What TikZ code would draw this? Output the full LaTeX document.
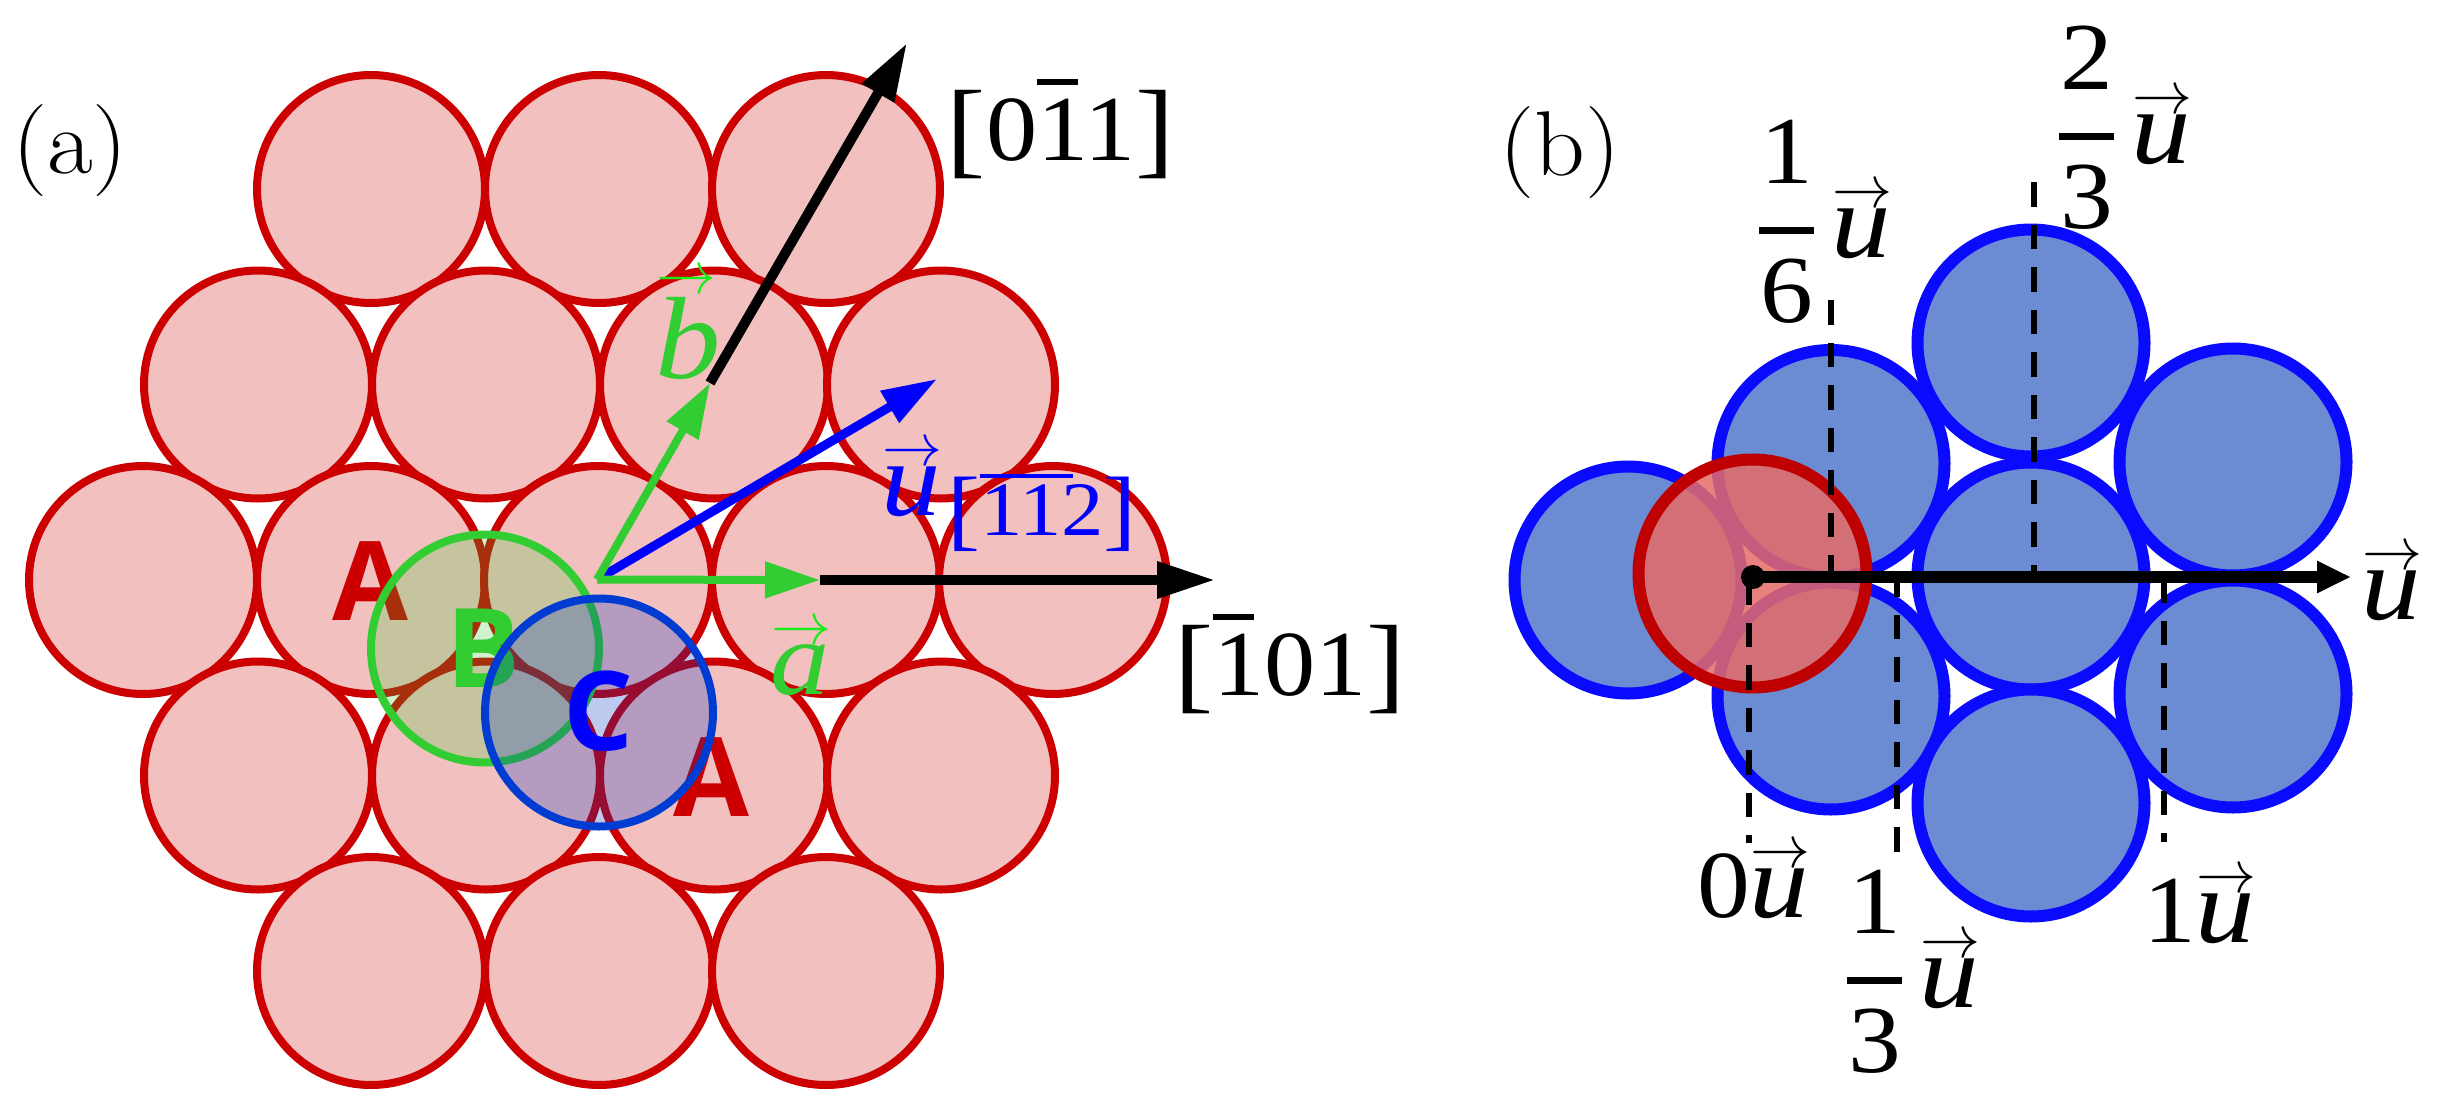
\documentclass[tikz,border=0pt]{standalone}
\usepackage{fix-cm}
\usepackage{fontspec}
\usepackage{graphicx}
\usetikzlibrary{arrows.meta}
\newfontfamily\lib{Liberation Serif}
\newfontfamily\sansb{Open Sans}
\newcommand\fs[1]{\fontsize{#1}{#1}\selectfont}
\newcommand\ov[1]{\rlap{\raisebox{.81em}{\rule{.4em}{.065em}}}#1}
\newcommand\wide[1]{\scalebox{1.1}[1]{#1}}
\newcommand\brk[1]{\raisebox{-4pt}{\fs{107}#1}}
\newcommand\brs[1]{\raisebox{-4pt}{\fs{90}#1}}
% vector letter: colour of the arrow, letter size, arrow lift, letter
\newcommand\vsym[4]{\rlap{\hspace{1pt}\raisebox{#3}{\textcolor{#1}{\fs{60}$\rightarrow$}}}\scalebox{1.12}[1]{\lib\itshape\fs{#2}#4}}
\newcommand\vu{\vsym{black}{106}{50pt}{u}}
\newcommand\fracu[2]{\lib\fs{96}\rlap{\rule[-3.5pt]{55pt}{7pt}}\rlap{\makebox[55pt][c]{\raisebox{47pt}{\wide{#1}}}}\rlap{\makebox[55pt][c]{\raisebox{-92pt}{\wide{#2}}}}\hspace{72pt}\raisebox{-27pt}{\vu}}
\definecolor{redline}{RGB}{204,0,0}
\definecolor{pinkfill}{RGB}{243,192,192}
\definecolor{greenline}{RGB}{50,205,50}
\definecolor{brightgreen}{RGB}{25,235,25}
\definecolor{bluedisc}{RGB}{0,60,210}
\definecolor{bluefilltr}{RGB}{0,50,190}
\definecolor{arrowblue}{RGB}{0,0,255}
\definecolor{atomblue}{RGB}{10,10,255}
\definecolor{atomfill}{RGB}{107,140,210}
\definecolor{dredline}{RGB}{190,0,0}
\definecolor{dredfill}{RGB}{230,107,104}
\tikzset{
  x=1pt,y=-1pt,
  atomA/.style={circle,inner sep=0,outer sep=0,minimum size=228pt,draw=redline,fill=pinkfill,line width=8pt},
  discB/.style={circle,inner sep=0,outer sep=0,minimum size=228pt,draw=greenline,fill=greenline,fill opacity=.23,line width=8pt},
  discC/.style={circle,inner sep=0,outer sep=0,minimum size=228pt,draw=bluedisc,fill=bluefilltr,fill opacity=.26,line width=8pt},
  atomU/.style={circle,inner sep=0,outer sep=0,minimum size=227pt,draw=atomblue,fill=atomfill,line width=12pt},
  atomR/.style={circle,inner sep=0,outer sep=0,minimum size=228pt,draw=dredline,fill=dredfill,fill opacity=.85,line width=12pt},
  lab/.style={inner sep=0,outer sep=0,anchor=base},
  labw/.style={inner sep=0,outer sep=0,anchor=base west},
  letter/.style={inner sep=0,outer sep=0,anchor=base,font=\sansb\bfseries\fs{110}},
  blackarrow/.style={line width=10pt,-{Triangle[length=58pt,width=35pt]}},
  greenarrow/.style={draw=greenline,line width=8pt,-{Triangle[length=55pt,width=35pt]}},
  bluearrow/.style={draw=arrowblue,line width=9pt,-{Triangle[length=55pt,width=35pt]}},
  axisarrow/.style={line width=12pt,-{Triangle[length=34pt,width=30pt]}},
  guide/.style={line width=6.5pt,dash pattern=on 24.5pt off 18pt},
}
\begin{document}
\begin{tikzpicture}
\useasboundingbox (0,0) rectangle (2448,1117);
\fill[white] (0,0) rectangle (2448,1117);
% panel a atoms
\foreach \n/\px/\py in {a1/371/189,a2/599/189,a3/826/189,
  b1/258/384.5,b2/486/384.5,b3/714/384.5,b4/941/384.5,
  c1/143/580,c2/371/580,c3/598/580,c4/826/580,c5/1053/580,
  d1/258/775.5,d2/486/775.5,d3/714/775.5,d4/941/775.5,
  e1/371/971,e2/599/971,e3/826/971}
  \node[atomA] (\n) at (\px,\py) {};
\node[letter,text=redline] (letA1) at (370,620) {A};
\node[letter,text=redline] (letA2) at (711,816) {A};
\node[discB] (discB1) at (485,648.5) {};
\node[letter,text=greenline] (letB) at (483.5,687) {B};
\node[discC] (discC1) at (599,712.5) {};
\node[letter,text=arrowblue] (letC) at (599,750) {C};
% panel a arrows
\coordinate (O) at (597,579.5);
\coordinate (atip) at (820,580);
\coordinate (btip) at (710,383);
\coordinate (utip) at (937,379);
\coordinate (hkl1) at (1215,580);
\coordinate (hkl2) at (907,43);
\draw[blackarrow] (atip) -- (hkl1);
\draw[blackarrow] (btip) -- (hkl2);
\draw[bluearrow] (O) -- (utip);
\draw[greenarrow] (O) -- (atip);
\draw[greenarrow] (O) -- (btip);
% panel a labels
\node[lab] (la) at (70,173) {\scalebox{1.08}[1]{\fs{92}(a)}};
\node[lab] (lb) at (1560,175) {\scalebox{1.08}[1]{\fs{92}(b)}};
\node[lab] (d011) at (1061,160) {\lib\fs{93}\wide{\brk{[}0\ov{1}1\brk{]}}};
\node[lab] (d101) at (1290,695) {\lib\fs{93}\wide{\brk{[}\ov{1}01\brk{]}}};
\node[lab,text=arrowblue] (d112) at (1042,535) {\lib\fs{77}\wide{\brs{[}\rlap{\raisebox{.74em}{\rule{1.1em}{.05em}}}112\brs{]}}};
\node[labw,text=arrowblue] (uvec) at (881,515) {\vsym{arrowblue}{106}{50pt}{u}};
\node[labw,text=greenline] (avec) at (770,694) {\vsym{brightgreen}{106}{50pt}{a}};
\node[labw,text=greenline] (bvec) at (655,378) {\vsym{brightgreen}{117}{85pt}{b}};
% panel b atoms
\foreach \n/\px/\py in {u1/1628/580,u2/1831/463.5,u3/1831/696,u4/2031/343,u5/2031/576,u6/2031/803,u7/2233/462,u8/2233/694}
  \node[atomU] (\n) at (\px,\py) {};
\node[atomR] (ured) at (1752.5,573.5) {};
% panel b guides
\coordinate (g0a) at (1749,580);  \coordinate (g0b) at (1749,843);
\coordinate (g6a) at (1831,300);  \coordinate (g6b) at (1831,572);
\coordinate (g2a) at (2034,182);  \coordinate (g2b) at (2034,572);
\coordinate (g3a) at (1897,582);  \coordinate (g3b) at (1897,859);
\coordinate (g1a) at (2164,578);  \coordinate (g1b) at (2164,842);
\draw[guide] (g0a) -- (g0b);
\draw[guide] (g6a) -- (g6b);
\draw[guide] (g2a) -- (g2b);
\draw[guide,dash phase=10pt] (g3a) -- (g3b);
\draw[guide] (g1a) -- (g1b);
\coordinate (axstart) at (1753,577);
\coordinate (axend) at (2351,577);
\fill (axstart) circle (12);
\draw[axisarrow] (axstart) -- (axend);
% panel b labels
\node[labw] (u6) at (1759,230.5) {\fracu{1}{6}};
\node[labw] (u23) at (2059,136) {\fracu{2}{3}};
\node[labw] (u13) at (1847,980.5) {\fracu{1}{3}};
\node[labw] (u0) at (1697,917) {\lib\fs{96}\wide{0}\vu};
\node[labw] (u1lab) at (2143,942) {\lib\fs{96}\wide{1}\vu};
\node[labw] (uax) at (2361,619) {\vu};
\end{tikzpicture}
\end{document}
